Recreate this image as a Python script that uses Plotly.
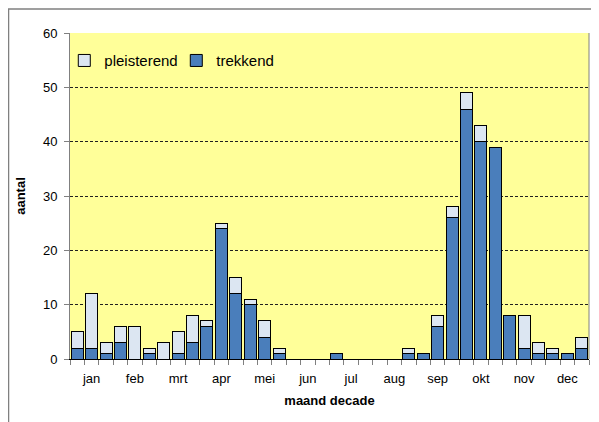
import plotly.graph_objects as go

months = ["jan", "feb", "mrt", "apr", "mei", "jun", "jul", "aug", "sep", "okt", "nov", "dec"]
decades = [f"{m} {d}" for m in months for d in (1, 2, 3)]

trekkend = [2, 2, 1, 3, 0, 1, 0, 1, 3, 6, 24, 12, 10, 4, 1, 0, 0, 0,
            1, 0, 0, 0, 0, 1, 1, 6, 26, 46, 40, 39, 8, 2, 1, 1, 1, 2]
pleisterend = [3, 10, 2, 3, 6, 1, 3, 4, 5, 1, 1, 3, 1, 3, 1, 0, 0, 0,
               0, 0, 0, 0, 0, 1, 0, 2, 2, 3, 3, 0, 0, 6, 2, 1, 0, 2]

x = list(range(len(decades)))
font = "Liberation Sans, Arial, sans-serif"

# page body has an 8px margin, so the figure is placed at (8, 8)
W, H = 591, 414
L, T, R, B = 62, 25, 10, 63

fig = go.Figure()
fig.add_trace(go.Bar(x=x, y=trekkend, name="trekkend", customdata=decades,
                     marker=dict(color="#4A7EBB", line=dict(color="#000000", width=1))))
fig.add_trace(go.Bar(x=x, y=pleisterend, name="pleisterend", customdata=decades,
                     marker=dict(color="#DCE6F2", line=dict(color="#000000", width=1))))

fig.update_layout(
    width=W, height=H,
    barmode="stack", bargap=0.17,
    paper_bgcolor="white", plot_bgcolor="#FFFF99",
    margin=dict(l=L, r=R, t=T, b=B, autoexpand=False),
    font=dict(family=font, size=13, color="black"),
    showlegend=True,
    legend=dict(orientation="h", traceorder="reversed", x=-0.011, y=0.915,
                xanchor="left", yanchor="middle", bgcolor="rgba(0,0,0,0)",
                font=dict(size=15, family=font), itemwidth=30, entrywidth=67,
                tracegroupgap=0),
    xaxis=dict(
        range=[-0.5, 35.5], tickmode="array",
        tickvals=[1 + 3 * i for i in range(12)], ticktext=months,
        ticks="", showgrid=False, showline=True, linecolor="black", linewidth=1,
        tickfont=dict(size=13), zeroline=False, ticklabelstandoff=7,
        minor=dict(tickmode="array", tickvals=[i - 0.5 for i in range(37)],
                   ticks="outside", ticklen=5, tickcolor="#808080", showgrid=False),
        title=dict(text="<b>maand decade</b>", font=dict(size=13), standoff=11),
    ),
    yaxis=dict(
        range=[0, 60], tickvals=[0, 10, 20, 30, 40, 50, 60],
        ticks="outside", ticklen=5, tickcolor="#808080",
        showgrid=True, gridcolor="#202020", griddash="3px,2px", gridwidth=1,
        showline=True, linecolor="#808080", linewidth=1, zeroline=False,
        tickfont=dict(size=13), ticklabelstandoff=4,
        title=dict(text="<b>aantal</b>", font=dict(size=13), standoff=14),
    ),
    shapes=[
        dict(type="line", xref="paper", yref="paper", x0=1, x1=1, y0=0, y1=1,
             line=dict(color="#808080", width=1)),
        dict(type="rect", xref="paper", yref="paper",
             x0=-L / (W - L - R) + 0.001, x1=1.05, y0=-0.3, y1=1 + (T - 1) / (H - T - B),
             line=dict(color="#808080", width=1.5), layer="below"),
    ],
)

fig.write_html("out.html")
